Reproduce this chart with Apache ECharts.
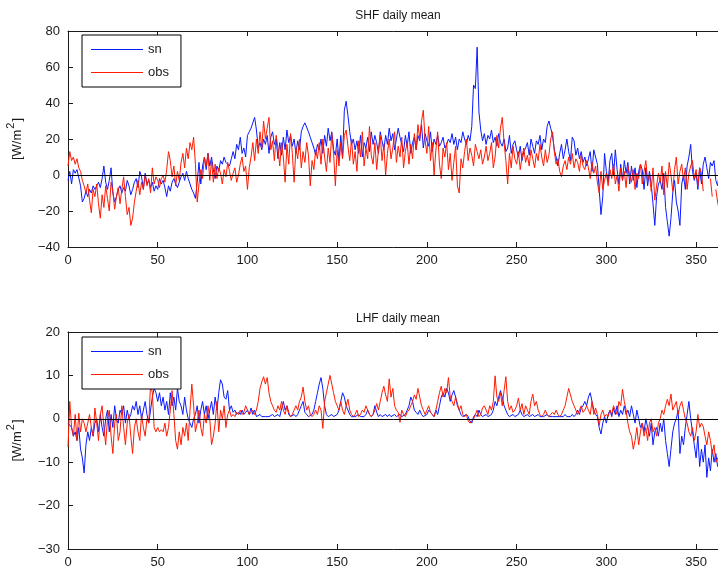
<!DOCTYPE html>
<html>
<head>
<meta charset="utf-8">
<title>SHF / LHF daily mean</title>
<script src="https://cdn.jsdelivr.net/npm/echarts@6/dist/echarts.min.js"></script>
<style>
  html, body { margin: 0; padding: 0; background: #fff; }
  #chart { width: 718px; height: 570px; }
</style>
</head>
<body>
<div id="chart"></div>
<script>
// Sensible heat flux, daily mean [W/m^2], day 0..364
const shfSn = [
  -3, 2, -5, 3, 1, 3, 2, -6, -15, -13,
  -9, -12, -8, -10, -6, -8, -9, -4, -7, -2,
  5, -4, -8, -3, 4, -10, -15, -12, -8, -6,
  -10, -7, -9, -3, -6, -11, -8, -4, -2, -7,
  2, -1, -8, 1, -5, -3, -7, -4, -9, -6,
  -8, -2, -5, -3, -7, -12, -6, -9, -4, -2,
  -5, -7, -4, -1, 1, -3, 2, -2, -5, -8,
  -10, -13, -4, 7, -5, 5, 10, 3, 12, 5,
  10, 3, -2, 5, 2, 8, 6, 10, 7, 8,
  5, 9, 13, 9, 17, 14, 21, 12, 15, 10,
  22, 24, 26, 29, 32, 25, 15, 18, 14, 20,
  17, 22, 12, 21, 24, 17, 20, 9, 18, 11,
  21, 14, 25, 18, 22, 16, 20, 12, 19, 14,
  24, 27, 29, 30, 24, 21, 18, 15, 11, 17,
  14, 20, 12, 22, 16, 26, 19, 24, 14, 11,
  20, 8, 22, 10, 36, 41, 33, 24, 17, 20,
  14, 19, 12, 22, 10, 18, 15, 21, 13, 24,
  17, 22, 18, 12, 24, 19, 14, 22, 17, 26,
  19, 23, 14, 20, 26, 21, 17, 13, 22, 16,
  24, 12, 18, 21, 14, 22, 19, 28, 15, 23,
  19, 16, 24, 13, 20, 17, 22, 16, 18, 21,
  15, 17, 20, 18, 23, 17, 21, 14, 20, 18,
  24, 20, 17, 22, 19, 27, 50, 48, 71, 35,
  25, 19, 23, 17, 22, 20, 25, 18, 21, 16,
  23, 18, 16, 20, 13, 15, 22, 12, 17, 19,
  14, 10, 16, 8, 13, 15, 18, 11, 20, 16,
  12, 19, 17, 22, 14, 20, 18, 27, 30, 26,
  22, 14, 10, 5, 12, 17, 9, 14, 20, 13,
  8, 21, 19, 11, 15, 9, 13, 7, 10, 5,
  9, 13, 2, 14, 10, 6, -8, -22, -12, 12,
  2, -4, 8, 12, 0, 14, 3, -5, 6, -3,
  8, 1, 7, -5, 5, -3, 4, -7, 2, 6,
  3, -8, 4, -6, 2, -5, -16, -28, -12, -5,
  -3, -8, 1, -18, -26, -34, -24, -10, -3, -15,
  -20, -28, -5, 0, -8, 5, 10, 17, 2, -3,
  1, -8, 4, -5, 6, 10, 4, -2, 7, 5,
  8, -3, -6, 2, -4
];

const shfObs = [
  5, 13, 8, 10, 6, 9, 4, 2, -3, -6,
  -10, -5, -14, -21, -8, -12, -5, -16, -24, -11,
  -18, -6, -13, -20, -4, -9, -19, -12, -7, -16,
  -8, -1, -12, -22, -18, -28, -24, -15, -9, -3,
  -11, -4, -8, 0, -6, -2, -10, 4, -5, -1,
  -3, -7, -2, 0, -4, 3, 13, 8, -1, 5,
  -6, 2, -3, 7, 12, 4, 15, 9, 18, 14,
  21, 6, -15, -5, 3, -2, 10, 5, 12, -3,
  8, -4, 6, -2, 4, 1, -5, 3, -1, 7,
  2, -3, 1, 4, -4, 0, 6, 10, 2, 5,
  -8, 4, 10, 18, 8, 20, 12, 24, 15, 30,
  20, 26, 32, 14, 19, 8, 22, 15, 5, 18,
  10, -4, 17, 6, 23, 12, -4, 15, 9, 20,
  4, 13, 7, 18, 11, -6, 8, 3, 14, 9,
  18, 6, 20, 10, 2, 15, 7, 23, 12, -6,
  14, 5, 18, 9, 22, 25, 16, 8, 20, 6,
  13, 2, 19, 10, 24, 5, 15, 9, 27, 11,
  6, 18, 3, 14, 22, 8, 17, 0, 12, 20,
  9, 15, 24, 7, 16, 10, 21, 4, 13, 18,
  6, 17, 9, 23, 14, 28, 20, 30, 36, 19,
  12, 27, 8, 18, 0, 14, 24, 6, -2, 15,
  10, 18, 3, 12, -3, 7, 16, -6, -10, 9,
  4, 13, 20, 8, 15, 11, 5, 17, 13, 9,
  14, 6, 10, 16, 8, 12, 18, 4, 10, 22,
  15, 26, 32, 18, 8, -5, 12, 4, 16, 9,
  6, 13, 3, 10, 15, 7, 11, 5, 14, 9,
  4, 12, 8, 17, 10, 5, 14, 7, 11, 20,
  24, 13, 6, 9, 2, -1, 5, 8, 3, 10,
  6, 12, 4, 9, 7, 2, 11, 5, 3, 8,
  4, -2, 7, 1, 5, -4, -10, 2, -8, -3,
  1, -6, 3, -2, 6, -5, 0, -9, 4, -3,
  2, -7, 5, 0, -4, 3, -8, 1, -2, 6,
  -5, 2, 8, -3, 0, -9, 4, -14, -6, 1,
  -4, 5, -11, 2, -7, 7, 0, -9, 3, 10,
  -5, 2, 6, -3, 4, -8, 1, 5, 8, -2,
  3, -6, 4, 1, -9, null, -6, null, -2, -12,
  null, -8, -15, -20, -12
];

// Latent heat flux, daily mean [W/m^2], day 0..364
const lhfSn = [
  -1, -1.5, -2, -4, -3, -5, -2, -7, -9, -12.5,
  -6, -3, -5, -2, -4, -1, 0, -3, 1, -2,
  -4, 0, 2, -3, 1, -2, 3, 0, -1, 2,
  1, 3, -1, 2, 0, 1, 3, 2, 4, 1,
  3, 0, 2, 4, 1, -1, 2, 5, 7, 6,
  4, 6, 3, 5, 2, 4, 1, 6, 3, 5,
  2, 7, 4, 3, 1, 5, 2, 0, -1, -2,
  0, 1, 3, -1, 2, 4, 1, 3, 0, 2,
  4, 1, 5, 2, 6, 9, 8, 5, 4.5, 6.5,
  2, 3, 1.5, 2, 1, 1.5, 1, 2, 1, 1.5,
  2, 1, 2.5, 1, 2, 0.5, 0.5, 1, 0.5, 0.5,
  0.5, 0.5, 0.5, 0.5, 1, 0.5, 0.5, 1, 0.5, 0.5,
  4, 2, 3, 1, 0.5, 0.5, 1, 0.5, 1, 2,
  3, 4, 1.5, 1, 0.5, 0.5, 1, 2, 4, 6,
  8, 9.5, 7, 3, 1, 0.5, 0.5, 1, 0.5, 0.5,
  1, 2, 4, 6, 5, 3, 2, 1, 0.5, 0.5,
  0.5, 0.5, 1, 0.5, 0.5, 0.5, 1, 2, 1, 0.5,
  1, 3, 1.5, 0.5, 1, 0.5, 0.5, 1, 0.5, 1,
  0.5, 0.5, 1, 0.5, 0.5, 1, 0.5, 0.5, 1, 2,
  3, 5, 4, 2, 1.5, 1, 2, 1, 0.5, 0.5,
  1, 2, 1.5, 1, 0.5, 2, 1, 3, 5, 6,
  5, 7, 6, 4, 5.5, 6.5, 5, 3, 2, 1,
  0.5, 0.5, 1, 0.5, -0.5, -1, 0.5, 1, 0.5, 2,
  1, 0.5, 0.5, 1, 0.5, 0.5, 1, 2, 4, 3,
  5, 6.5, 5, 3, 2, 1, 0.5, 0.5, 1, 0.5,
  0.5, 1, 2, 1, 0.5, 0.5, 1, 0.5, 0.5, 1,
  0.5, 0.5, 1, 0.5, 0.5, 0.5, 0.5, 1, 0.5, 0.5,
  0.5, 0.5, 0.5, 0.5, 0.5, 0.5, 0.5, 1, 0.5, 0.5,
  0.5, 1, 0.5, 1, 2, 1, 2.5, 3, 4, 3,
  5, 6, 4, 2, 1, 0.5, -2, -3.5, -1, 0.5,
  -1, 1, 2, 0.5, 2.5, 1, 3, 0.5, 2, 1,
  3, 1, 2, 0.5, 3, 1, -1, 2, 0, -2,
  -1, -3, 0, -2, -4, -1, -6, -3, -2, -4,
  -1, -3, 0, -5, -8, -11, -7, -3, -1, 0,
  2, -8, -4, -6, -2, 1, 4, 0, -3, -6,
  -9, -4, -11, -7, -10, -6, -13.5, -9, -12, -7,
  -10, -8, -11, -9, -7
];

const lhfObs = [
  -6.5, 4, -2, -4, 1, -5, 1.3, -3, 0, -1,
  -3, -1, 1, -2, -4, 2.5, -1, -5, 1, 3,
  -2, -6, 0, 2, -4, -8, -1, 1, -5, -3,
  3, -2, -6, -1, 1, -4, -8, -2, 0, -3,
  -5, 1, -2, -4, 0, -1, 8, 6, -2, -3,
  -2, -3, -2.5, -3, -1, -4, -2, 2, 6.5, 1,
  -5, -7, -3, -6, -2, -4, -1, -5, 2, 8,
  3, -3, -1, 2, -2, -4, 1, -1, 3, 0,
  -6, -4, -1, 4, -3, 2, 0, 3, -2, 1,
  2, 0.5, 1, 0.5, 1.5, 1, 2, 1, 1.5, 3,
  2, 1, 1.5, 2, 1, 2, 4, 7, 8.5, 9.7,
  8, 9.5, 6, 4, 3, 2, 1.5, 3, 2, 4,
  2, 1, 3, 1.5, 0.5, 1, 2, 3, 2, 4,
  5, 7.3, 4, 2, 3, 1, 0.5, 1, 2, 1,
  3, 2, -2.2, 4, 6, 8, 10, 8, 6, 4,
  3, 2, 4, 2, 1, 3, 4.5, 2, 1, 0.5,
  1, 2, 0.5, 1, 2, 1.5, 3, 2, 1, 0.5,
  1, 2, 3.5, 2, 4, 6, 7.5, 5.5, 4, 9.2,
  5, 7, 3, 2, 1.5, -0.8, 2, 1, 0.5, 1.5,
  2, 3, 4, 5.5, 4.5, 7, 5, 3, 2, 1,
  2, 3, 1.5, 1, 0.5, 2, 4, 6, 7.5, 5,
  7, 6, 9.5, 5, 4, 3, 5, 3.5, 2, 3,
  1, 0.5, 1, -0.5, -1, -1.4, 0, 1, 2, 0.5,
  1, 2.5, 3, 2, 1, 3, 2, 4, 9.9, 5,
  4, 6, 3, 6.5, 9.7, 4, 2, 3, 1.5, 2,
  3, 4.8, 2, 3.5, 1, 3, 2, 1, 4, 5.7,
  3, 4, 2, 1, 0.5, 1, 2, 1, 0.5, 1,
  1.5, 1, 2, 1, 0.5, 1, 2, 3, 5, 7,
  5.5, 4, 3, 2, 1, 2, 3, 1.5, 2, 3,
  2, 1, 4, 1, 2.5, 1, -1.5, 1, 2, 0.5,
  1, 0.5, 2, 1, 3, 2, 1, 4, 3, 6.8,
  4, 2, -1, -3, -4, -7, -5, -2, -6, -3,
  -1, -4, -2, -5, -1, 0, -3, -2, -4, -1,
  0, 2, 1, 3, 4.5, 3, 5.7, 2, 3, 4,
  1, 3, 4, 2, 0, -1, -3, -4, -2, -5,
  -3, 1, -2, -1, -1.8, -4, -6, -3, -5, -8,
  -6, -10, -9, -11, -10
];

const seriesNames = ['sn', 'obs'];
const panelTitles = ['SHF daily mean', 'LHF daily mean'];
const xTicks = { min: 0, max: 365, interval: 50 };
const yTicksShf = { min: -40, max: 80, interval: 20 };
const yTicksLhf = { min: -30, max: 20, interval: 10 };

const BLUE = '#0a1aff';
const RED = '#ff1a00';
const INK = '#1a1a1a';
const FONT = 'Liberation Sans, Arial, sans-serif';

// unit label with a raised exponent
const yUnit = '{b|[W/m}{sup|2}{b|]}';

// pair each daily value with its day number; gaps stay gaps
const toPairs = arr => arr.map((v, i) => [i, v === null ? '-' : v]);

// tick labels use a true minus sign
const fmtTick = v => String(v).replace('-', '\u2212');

// fixed plot boxes; the right frame runs just past the canvas edge
const GRIDS = [
  { left: 68, top: 31, width: 655, height: 216, outerBoundsMode: 'none', containLabel: false },
  { left: 68, top: 332, width: 655, height: 217, outerBoundsMode: 'none', containLabel: false }
];

function xAxisFor(gridIndex, top) {
  return {
    type: 'value', gridIndex, position: top ? 'top' : 'bottom',
    min: xTicks.min, max: xTicks.max, interval: xTicks.interval,
    axisLine: { show: true, onZero: false, lineStyle: { color: INK, width: 1 } },
    axisTick: { show: true, inside: true, length: 5, lineStyle: { color: INK } },
    axisLabel: { show: !top, showMaxLabel: false, margin: 7, color: INK, fontSize: 13, fontFamily: FONT, formatter: fmtTick },
    splitLine: { show: false }
  };
}

function yAxisFor(gridIndex, ticks, right) {
  return {
    type: 'value', gridIndex, position: right ? 'right' : 'left',
    min: ticks.min, max: ticks.max, interval: ticks.interval,
    name: right ? '' : yUnit, nameLocation: 'middle', nameGap: 44,
    nameTextStyle: {
      color: INK, fontFamily: FONT,
      rich: {
        b: { fontSize: 13, color: INK, fontFamily: FONT, lineHeight: 22, verticalAlign: 'bottom' },
        sup: { fontSize: 11, color: INK, fontFamily: FONT, lineHeight: 22, verticalAlign: 'bottom', padding: [0, 1, 8, 1] }
      }
    },
    axisLine: { show: true, onZero: false, lineStyle: { color: INK, width: 1 } },
    axisTick: { show: true, inside: true, length: 5, lineStyle: { color: INK } },
    axisLabel: { show: !right, margin: 8, color: INK, fontSize: 13, fontFamily: FONT, formatter: fmtTick },
    splitLine: { show: false }
  };
}

function lineSeries(name, values, color, gridIdx, withZero) {
  const s = {
    name, type: 'line', xAxisIndex: gridIdx * 2, yAxisIndex: gridIdx * 2,
    data: toPairs(values), symbol: 'none', connectNulls: false,
    lineStyle: { color, width: 1 }, itemStyle: { color },
    animation: false
  };
  if (withZero) {
    s.markLine = {
      silent: true, symbol: 'none', animation: false, z: 5,
      label: { show: false },
      lineStyle: { color: '#000', width: 1, type: 'solid' },
      data: [{ yAxis: 0 }]
    };
  }
  return s;
}

function legendFor(top) {
  return {
    data: seriesNames, orient: 'vertical', left: 82, top,
    // thin bar keeps its aspect, so the key reads as a plain line
    icon: 'path://M0,0H52V1H0Z',
    itemWidth: 52, itemHeight: 14, itemGap: 10,
    padding: [8, 12, 8, 9],
    backgroundColor: '#fff', borderColor: '#000', borderWidth: 1,
    textStyle: { color: INK, fontSize: 13, fontFamily: FONT },
    selectedMode: false, z: 10
  };
}

const chart = echarts.init(document.getElementById('chart'), null, { renderer: 'canvas' });
chart.setOption({
  animation: false,
  backgroundColor: '#fff',
  title: panelTitles.map((t, i) => ({
    text: t, left: 393, top: i === 0 ? 5 : 308, textAlign: 'center',
    textStyle: { color: INK, fontSize: 12, fontWeight: 'normal', fontFamily: FONT }
  })),
  legend: [legendFor(35), legendFor(337)],
  grid: GRIDS,
  xAxis: [xAxisFor(0, false), xAxisFor(0, true), xAxisFor(1, false), xAxisFor(1, true)],
  yAxis: [yAxisFor(0, yTicksShf, false), yAxisFor(0, yTicksShf, true),
          yAxisFor(1, yTicksLhf, false), yAxisFor(1, yTicksLhf, true)],
  series: [
    lineSeries(seriesNames[0], shfSn, BLUE, 0, false),
    lineSeries(seriesNames[1], shfObs, RED, 0, true),
    lineSeries(seriesNames[0], lhfSn, BLUE, 1, false),
    lineSeries(seriesNames[1], lhfObs, RED, 1, true)
  ]
});
</script>
</body>
</html>
